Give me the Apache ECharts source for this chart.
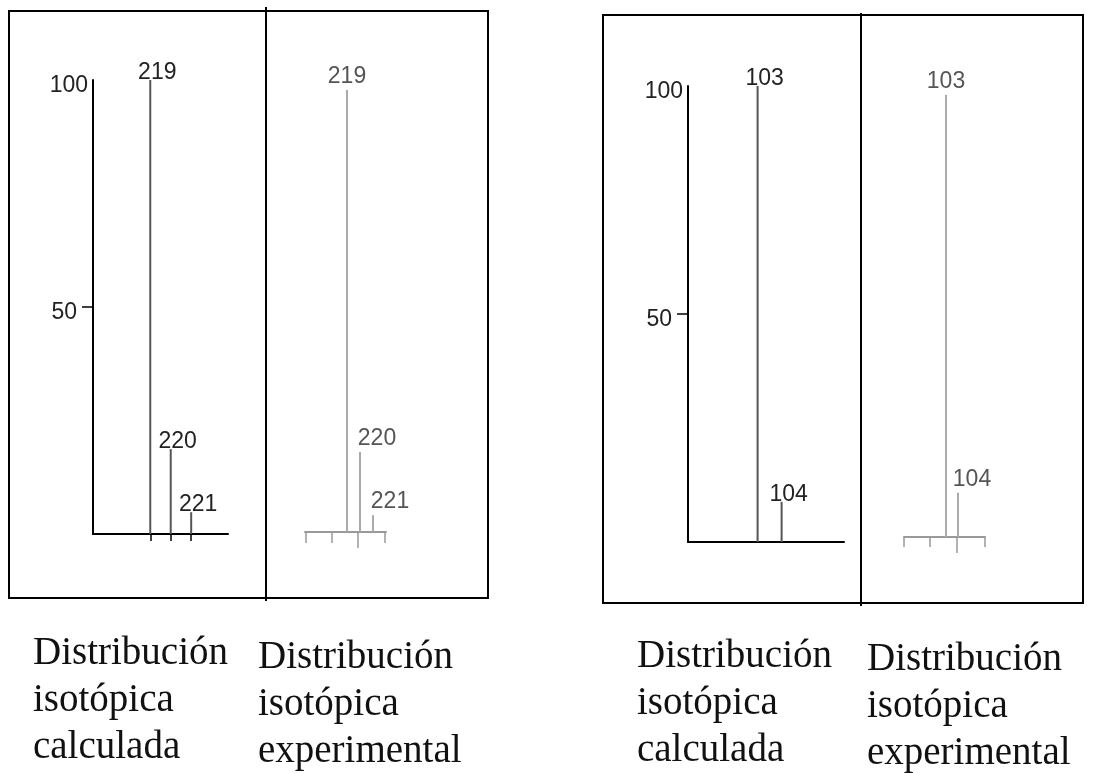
<!DOCTYPE html>
<html>
<head>
<meta charset="utf-8" />
<script src="https://cdn.jsdelivr.net/npm/echarts@6/dist/echarts.min.js"></script>
<title>distribucion isotopica</title>
<style type="text/css">
* {margin:0; padding:0;}
body {background:#fff;}
#chart {width:1094px; height:773px;}
</style>
</head>
<body>
<div id="chart"></div>
<script>
// datos: masa / intensidad relativa
var calcMassA = [219, 220, 221];
var calcIntA = [100, 18.7, 4.8];
var expMassA = [219, 220, 221];
var expIntA = [100, 18.1, 3.8];

var calcMassB = [103, 104];
var calcIntB = [100, 8.8];
var expMassB = [103, 104];
var expIntB = [100, 10.0];

var yTickLabels = [50, 100];
// marcas del eje en los paneles experimentales
var expTicksA = [215.8, 217.8, 219.85, 221.9];
var expLongTickA = [219.85];
var expTicksB = [99.5, 101.67, 103.92, 106.25];
var expLongTickB = [103.92];

var panelText = ['Distribución\nisotópica\ncalculada', 'Distribución\nisotópica\nexperimental'];

function pairs(xs, ys) {
	var out = [];
	for (var i = 0; i < xs.length; i++) out.push([xs[i], ys[i]]);
	return out;
}

var chart = echarts.init(document.getElementById('chart'), null, {renderer: 'canvas'});

var numFont = 'Liberation Sans';

function grid(l, t, w, h) {
	return {left: l, top: t, width: w, height: h, outerBoundsMode: 'none', containLabel: false};
}

function calcX(gi, min, max, ticks) {
	return {
		type: 'value', gridIndex: gi, min: min, max: max, position: 'bottom',
		axisLine: {show: true, onZero: false, lineStyle: {color: '#000', width: 2}},
		axisTick: ticks ? {show: true, customValues: ticks, length: 7, lineStyle: {color: '#000', width: 1.5}} : {show: false},
		axisLabel: {show: false}, splitLine: {show: false}
	};
}
function expX(gi, min, max, ticks, len, showLine) {
	return {
		type: 'value', gridIndex: gi, min: min, max: max, position: 'bottom',
		axisLine: {show: showLine, onZero: false, lineStyle: {color: '#999', width: 2}},
		axisTick: {show: true, customValues: ticks, length: len, lineStyle: {color: '#999', width: 1.5}},
		axisLabel: {show: false}, splitLine: {show: false}
	};
}
function calcY(gi) {
	return [{
		type: 'value', gridIndex: gi, min: 0, max: 100, position: 'left',
		axisLine: {show: true, lineStyle: {color: '#000', width: 2}},
		axisTick: {show: false},
		axisLabel: {show: true, customValues: [yTickLabels[1]], margin: 5, verticalAlign: 'top', lineHeight: 12,
			color: '#222', fontFamily: numFont, fontSize: 23},
		splitLine: {show: false}
	}, {
		type: 'value', gridIndex: gi, min: 0, max: 100, position: 'left',
		axisLine: {show: false},
		axisTick: {show: true, customValues: [yTickLabels[0]], length: 11, lineStyle: {color: '#000', width: 1.5}},
		axisLabel: {show: true, customValues: [yTickLabels[0]], margin: 16, verticalAlign: 'top', lineHeight: 12,
			color: '#222', fontFamily: numFont, fontSize: 23},
		splitLine: {show: false}
	}];
}
function hiddenY(gi) {
	return {type: 'value', gridIndex: gi, min: 0, max: 100, show: false};
}

function stems(xi, yi, data, color, calc, dx) {
	return {
		type: 'bar', xAxisIndex: xi, yAxisIndex: yi, barWidth: 2,
		data: data,
		itemStyle: {color: color},
		silent: true,
		label: {
			show: true, position: 'top',
			distance: calc ? -4 : 2,
			fontFamily: numFont, fontSize: 23,
			color: calc ? '#222' : '#555',
			formatter: function (p) { return p.value[0]; }
		},
		labelLayout: calc ? function () { return {dx: 7}; } : function (p) { return {dx: p.dataIndex === 0 ? 0 : dx}; }
	};
}

var yAxes = [];
yAxes = yAxes.concat(calcY(0));      // 0,1
yAxes.push(hiddenY(1));              // 2
yAxes = yAxes.concat(calcY(2));      // 3,4
yAxes.push(hiddenY(3));              // 5

function frameText(x, y, txt) {
	return {
		type: 'text', x: x, y: y, silent: true,
		style: {text: txt, font: '39px "Liberation Serif"', lineHeight: 47, fill: '#111'}
	};
}
function boxLine(x1, y1, x2, y2) {
	return {type: 'line', silent: true, shape: {x1: x1, y1: y1, x2: x2, y2: y2}, style: {stroke: '#000', lineWidth: 2}};
}

chart.setOption({
	animation: false,
	backgroundColor: '#fff',
	grid: [
		grid(93, 80, 135, 454),
		grid(305, 90, 81, 442),
		grid(688, 86, 156, 456),
		grid(904, 95, 81, 442)
	],
	xAxis: [
		calcX(0, 216.2, 222.8, calcMassA),
		expX(1, 215.77, 222.0, expTicksA, 11, true),
		expX(1, 215.77, 222.0, expLongTickA, 16, false),
		calcX(2, 100.1, 106.6, null),
		expX(3, 99.5, 106.25, expTicksB, 10, true),
		expX(3, 99.5, 106.25, expLongTickB, 16, false)
	],
	yAxis: yAxes,
	series: [
		stems(0, 0, pairs(calcMassA, calcIntA), '#555', true),
		stems(1, 2, pairs(expMassA, expIntA), '#aaa', false, 17),
		stems(3, 3, pairs(calcMassB, calcIntB), '#555', true),
		stems(4, 5, pairs(expMassB, expIntB), '#aaa', false, 14)
	],
	graphic: [
		{type: 'rect', silent: true, shape: {x: 9, y: 11, width: 479, height: 587}, style: {fill: 'none', stroke: '#000', lineWidth: 2}},
		boxLine(266, 7, 266, 601),
		{type: 'rect', silent: true, shape: {x: 603, y: 15, width: 480, height: 588}, style: {fill: 'none', stroke: '#000', lineWidth: 2}},
		boxLine(861, 13, 861, 606),
		frameText(33, 630, panelText[0]),
		frameText(258, 634, panelText[1]),
		frameText(637, 633, panelText[0]),
		frameText(867, 636, panelText[1])
	]
});
</script>
</body>
</html>
